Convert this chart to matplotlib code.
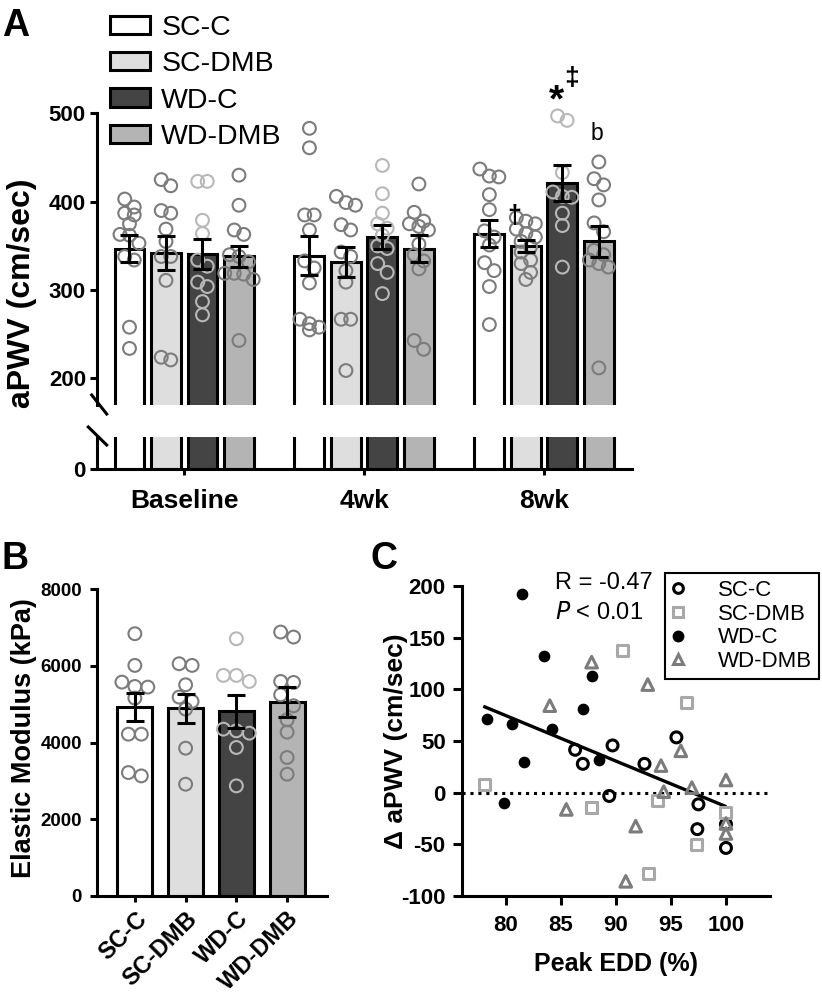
import numpy as np
import matplotlib
matplotlib.use("Agg")
import matplotlib.pyplot as plt
from matplotlib.patches import Patch
from matplotlib.lines import Line2D

plt.rcParams['font.family'] = ['Liberation Sans', 'DejaVu Sans']
plt.rcParams['axes.unicode_minus'] = False

# ---------------- data ----------------
groups = ["SC-C", "SC-DMB", "WD-C", "WD-DMB"]
timepoints = ["Baseline", "4wk", "8wk"]

apwv_mean_baseline = [347, 342, 341, 338]
apwv_mean_4wk = [339, 332, 360, 347]
apwv_mean_8wk = [364, 350, 421, 355]
apwv_sem_baseline = [15, 19, 17, 12]
apwv_sem_4wk = [22, 17, 14, 15]
apwv_sem_8wk = [15, 7, 20, 18]

apwv_pts_baseline = [
    [403, 394, 387, 385, 375, 363, 362, 353, 338, 334, 258, 234],
    [425, 418, 390, 387, 369, 355, 338, 338, 311, 224, 221],
    [423, 423, 379, 364, 334, 327, 309, 304, 287, 272],
    [430, 396, 368, 363, 340, 338, 332, 319, 319, 318, 312, 243],
]
apwv_pts_4wk = [
    [483, 461, 385, 385, 368, 333, 325, 308, 267, 262, 258, 255],
    [406, 399, 396, 374, 368, 343, 338, 322, 309, 267, 267, 209],
    [441, 409, 387, 375, 370, 362, 350, 347, 330, 320, 296],
    [420, 388, 378, 375, 372, 368, 352, 340, 333, 324, 243, 233],
]
apwv_pts_8wk = [
    [437, 429, 428, 408, 391, 367, 360, 351, 331, 322, 304, 261],
    [382, 378, 375, 369, 364, 360, 355, 349, 343, 334, 330, 320, 312],
    [497, 492, 433, 411, 406, 405, 387, 373, 326],
    [445, 426, 419, 402, 376, 366, 345, 340, 334, 330, 326, 212],
]

em_mean = [4922, 4896, 4809, 5052]
em_sem = [370, 380, 426, 395]
em_pts = [
    [6835, 6009, 5574, 5461, 5444, 5157, 4217, 4217, 3217, 3130],
    [6052, 6009, 5504, 5183, 5070, 4870, 3852, 2913],
    [6704, 5748, 5748, 5591, 4348, 4304, 4243, 3870, 2870],
    [6878, 6748, 5591, 5565, 5243, 4957, 4591, 4270, 3609, 3174],
]

scc_edd = [86.3, 87.0, 89.7, 89.4, 92.6, 95.5, 97.5, 97.4, 100.0, 100.0]
scc_delta = [41.5, 27.9, 45.7, -3.2, 27.9, 53.5, -11.3, -35.3, -30.5, -53.5]
scdmb_edd = [78.1, 87.8, 90.6, 93.8, 93.0, 96.4, 97.3, 100.0]
scdmb_delta = [8.1, -14.6, 137.7, -7.8, -78.4, 87.5, -50.2, -19.1]
wdc_edd = [78.3, 79.85, 80.6, 81.5, 81.7, 83.5, 84.2, 87.0, 87.8, 88.5]
wdc_delta = [71.3, -10.4, 66.4, 192.0, 30.1, 132.0, 61.5, 81.0, 112.7, 31.7]
wddmb_edd = [84.0, 85.5, 87.8, 91.8, 90.9, 92.9, 94.1, 94.35, 95.9, 96.9, 100.0, 100.0, 100.0]
wddmb_delta = [84.2, -16.2, 126.3, -32.4, -85.8, 104.6, 26.2, 1.0, 40.5, 4.9, 12.3, -29.8, -39.5]
line_edd = [78.1, 99.9]
line_delta = [83.0, -13.0]

# ---------------- style ----------------
bar_colors = ["#ffffff", "#dedede", "#444444", "#b4b4b4"]
pt_colors = ["#7c7c7c", "#7c7c7c", "#b8b8b8", "#7c7c7c"]
LW = 2.2

W, H = 822, 1002
fig = plt.figure(figsize=(W / 100, H / 100), dpi=100)


def fx(px):
    return px / W


def fy(py):
    return 1 - py / H


def rect(l, t, r, b):
    return [fx(l), fy(b), fx(r) - fx(l), fy(t) - fy(b)]


def swarm_offsets(vals, thresh, step):
    vals = np.asarray(vals, float)
    order = np.argsort(-vals, kind="stable")
    offs = np.zeros(len(vals))
    clusters = []
    for i in order:
        if clusters and vals[clusters[-1][0]] - vals[i] < thresh:
            clusters[-1].append(i)
        else:
            clusters.append([i])
    for c in clusters:
        n = len(c)
        for k, i in enumerate(c):
            offs[i] = (k - (n - 1) / 2) * step
    return offs


# ---------------- Panel A ----------------
axA = fig.add_axes(rect(97, 113.3, 631.7, 405))
axA0 = fig.add_axes(rect(97, 436.7, 631.7, 469.3))
group_spacing = 4.93
centers = np.arange(len(timepoints)) * group_spacing
offsets = np.array([-1.5, -0.5, 0.5, 1.5])
means = [apwv_mean_baseline, apwv_mean_4wk, apwv_mean_8wk]
sems = [apwv_sem_baseline, apwv_sem_4wk, apwv_sem_8wk]
pts = [apwv_pts_baseline, apwv_pts_4wk, apwv_pts_8wk]
xlimA = (-2.39, centers[-1] + 2.4)

for ax in (axA, axA0):
    for t in range(len(timepoints)):
        xs = centers[t] + offsets
        ax.bar(xs, means[t], width=0.82, color=bar_colors, edgecolor='k',
               linewidth=LW, zorder=2)
    ax.set_xlim(*xlimA)
    for s in ['top', 'right']:
        ax.spines[s].set_visible(False)
    for s in ['left', 'bottom']:
        ax.spines[s].set_linewidth(LW)

for t in range(len(timepoints)):
    xs = centers[t] + offsets
    for g in range(4):
        off = swarm_offsets(pts[t][g], 11.0, 0.26)
        axA.scatter(xs[g] + off, pts[t][g], s=85, facecolors='none',
                    edgecolors=pt_colors[g], linewidths=1.5, zorder=3, clip_on=False)
    axA.errorbar(xs, means[t], yerr=sems[t], fmt='none', ecolor='k',
                 elinewidth=LW, capsize=6.5, capthick=LW, zorder=5)

axA.set_ylim(170, 500)
axA.set_yticks([200, 300, 400, 500])
axA.spines['bottom'].set_visible(False)
axA.set_xticks([])
axA.tick_params(axis='y', width=LW, length=5, pad=3, labelsize=16)
for lab in axA.get_yticklabels():
    lab.set_fontweight('bold')

axA0.set_ylim(0, 36.9)
axA0.set_yticks([0])
axA0.set_xticks(centers)
axA0.set_xticklabels(timepoints, fontsize=19, fontweight='bold')
axA0.tick_params(axis='y', width=LW, length=5, pad=3, labelsize=16)
axA0.tick_params(axis='x', width=LW, length=4.5, pad=10)
for lab in axA0.get_yticklabels():
    lab.set_fontweight('bold')

# break marks
for (x0, y0, x1, y1) in [(91.7, 395, 106.7, 414), (88.3, 427, 106.7, 445)]:
    fig.add_artist(Line2D([fx(x0), fx(x1)], [fy(y0), fy(y1)], color='k', lw=LW))

fig.text(fx(22), fy(293), "aPWV (cm/sec)", rotation=90, ha='center', va='center',
         fontsize=23, fontweight='bold')

# annotations
axA.text(10.20, 513.5, "*", ha='center', va='center', fontsize=28, fontweight='bold', clip_on=False)
axA.text(10.6, 540.0, "\u2021", ha='center', va='center', fontsize=19, fontweight='bold', clip_on=False)
axA.text(9.04, 383.7, "\u2020", ha='center', va='center', fontsize=18, fontweight='bold')
axA.text(11.32, 477.7, "b", ha='center', va='center', fontsize=16.5)

handles = [Patch(facecolor=c, edgecolor='k', linewidth=LW) for c in bar_colors]
fig.legend(handles, groups, loc='upper left', bbox_to_anchor=(fx(110), fy(15)),
           frameon=False, fontsize=20.5, handlelength=1.4, handleheight=0.62,
           labelspacing=0.36, handletextpad=0.4, borderpad=0, borderaxespad=0)

fig.text(fx(2), fy(8), "A", ha='left', va='top', fontsize=27, fontweight='bold')

# ---------------- Panel B ----------------
axB = fig.add_axes(rect(97.3, 589, 326.7, 896))
xB = np.arange(4)
axB.bar(xB, em_mean, width=0.69, color=bar_colors, edgecolor='k', linewidth=LW, zorder=2)
for g in range(4):
    off = swarm_offsets(em_pts[g], 313, 0.255)
    axB.scatter(xB[g] + off, em_pts[g], s=85, facecolors='none',
                edgecolors=pt_colors[g], linewidths=1.5, zorder=3, clip_on=False)
axB.errorbar(xB, em_mean, yerr=em_sem, fmt='none', ecolor='k',
             elinewidth=LW, capsize=6.5, capthick=LW, zorder=5)
axB.set_xlim(-0.74, 3.78)
axB.set_ylim(0, 8000)
axB.set_yticks([0, 2000, 4000, 6000, 8000])
axB.set_xticks(xB)
axB.set_xticklabels(groups, rotation=45, ha='right', rotation_mode='anchor',
                    fontsize=17, fontweight='bold')
for s in ['top', 'right']:
    axB.spines[s].set_visible(False)
for s in ['left', 'bottom']:
    axB.spines[s].set_linewidth(LW)
axB.tick_params(axis='y', width=LW, length=5, pad=6, labelsize=13.5)
axB.tick_params(axis='x', width=LW, length=4, pad=4)
for lab in axB.get_yticklabels():
    lab.set_fontweight('bold')
fig.text(fx(24), fy(738), "Elastic Modulus (kPa)", rotation=90, ha='center', va='center',
         fontsize=19.5, fontweight='bold')
fig.text(fx(2), fy(541), "B", ha='left', va='top', fontsize=27, fontweight='bold')

# ---------------- Panel C ----------------
axC = fig.add_axes(rect(461.7, 586, 770, 896))
axC.axhline(0, color='k', linestyle=(0, (1, 1.6)), lw=2.2, zorder=1)
axC.plot(line_edd, line_delta, color='k', lw=2.4, zorder=2)
axC.scatter(scc_edd, scc_delta, s=62, marker='o', facecolors='none', edgecolors='k',
            linewidths=2.2, zorder=3, clip_on=False)
axC.scatter(scdmb_edd, scdmb_delta, s=62, marker='s', facecolors='none', edgecolors='#a8a8a8',
            linewidths=2.2, zorder=3, clip_on=False)
axC.scatter(wdc_edd, wdc_delta, s=55, marker='o', color='k', zorder=3, clip_on=False)
axC.scatter(wddmb_edd, wddmb_delta, s=70, marker='^', facecolors='none', edgecolors='#7c7c7c',
            linewidths=2.2, zorder=3, clip_on=False)
axC.set_xlim(76, 104)
axC.set_ylim(-100, 200)
axC.set_xticks([80, 85, 90, 95, 100])
axC.set_yticks([-100, -50, 0, 50, 100, 150, 200])
for s in ['top', 'right']:
    axC.spines[s].set_visible(False)
for s in ['left', 'bottom']:
    axC.spines[s].set_linewidth(LW)
axC.tick_params(width=LW, length=6.5, labelsize=16)
axC.tick_params(axis='y', pad=5)
axC.tick_params(axis='x', pad=7)
for lab in axC.get_xticklabels() + axC.get_yticklabels():
    lab.set_fontweight('bold')
fig.text(fx(616), fy(964), "Peak EDD (%)", ha='center', va='center', fontsize=18, fontweight='bold')
fig.text(fx(396), fy(741), "\u0394 aPWV (cm/sec)", rotation=90, ha='center', va='center',
         fontsize=19, fontweight='bold')
fig.text(fx(370), fy(541), "C", ha='left', va='top', fontsize=27, fontweight='bold')
axC.text(0.303, 1.045, "R = -0.47", transform=axC.transAxes, ha='left', va='top', fontsize=17)
axC.text(0.303, 0.948, r"$\it{P}$ < 0.01", transform=axC.transAxes, ha='left', va='top', fontsize=17)

leg_handles = [
    Line2D([], [], marker='o', linestyle='none', markerfacecolor='none', markeredgecolor='k',
           markeredgewidth=2.2, markersize=7),
    Line2D([], [], marker='s', linestyle='none', markerfacecolor='none', markeredgecolor='#a8a8a8',
           markeredgewidth=2.2, markersize=7),
    Line2D([], [], marker='o', linestyle='none', color='k', markersize=7.5),
    Line2D([], [], marker='^', linestyle='none', markerfacecolor='none', markeredgecolor='#7c7c7c',
           markeredgewidth=2.2, markersize=7.5),
]
leg = axC.legend(leg_handles, groups, loc='upper left', bbox_to_anchor=(fx(665), fy(573.3)),
                 bbox_transform=fig.transFigure, frameon=True, fancybox=False, edgecolor='k',
                 framealpha=1, fontsize=16, handlelength=0.6, handletextpad=1.5,
                 borderpad=0.3, labelspacing=0.12, borderaxespad=0)
leg.get_frame().set_linewidth(1.5)

fig.savefig("out.png", dpi=100)
